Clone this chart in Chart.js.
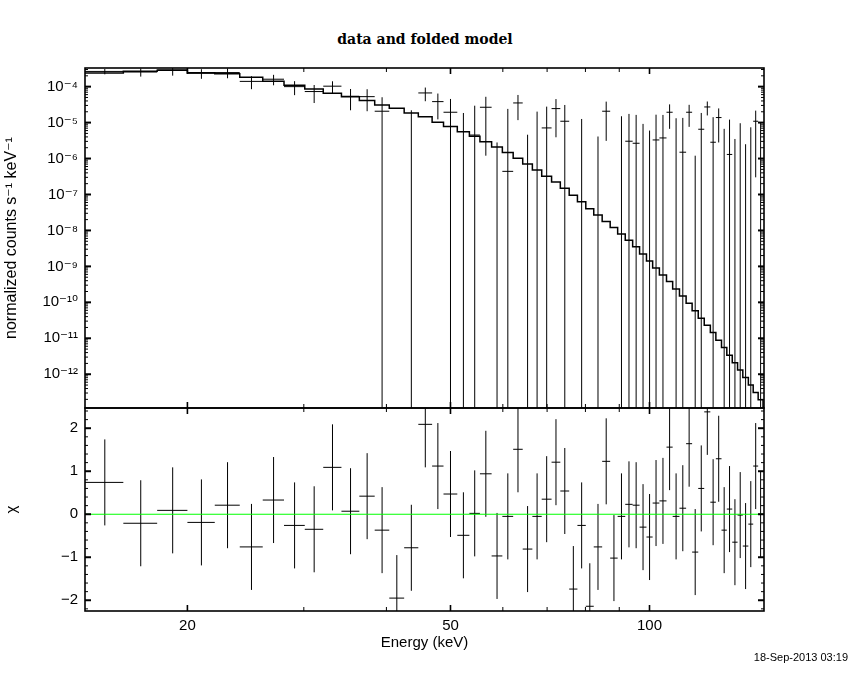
<!DOCTYPE html>
<html lang="en">
<head>
<meta charset="UTF-8">
<title>data and folded model</title>
<script src="https://cdn.jsdelivr.net/npm/chart.js"></script>
<style>
  body { margin: 0; background: #fff; }
  #wrap { position: relative; width: 850px; height: 680px; }
  canvas { position: absolute; left: 0; }
  #top { top: 0; }
  #bottom { top: 400px; }
  #title { position: absolute; top: 32px; left: 0; width: 850px; text-align: center;
           font: bold 14px/14px 'DejaVu Serif', serif; color: #000; }
  #stamp { position: absolute; top: 652px; right: 2px;
           font: 11px/11px 'Liberation Sans', sans-serif; color: #000; }
</style>
</head>
<body>
<div id="wrap">
  <div id="title">data and folded model</div>
  <canvas id="top" width="850" height="420"></canvas>
  <canvas id="bottom" width="850" height="280"></canvas>
  <div id="stamp">18-Sep-2013 03:19</div>
</div>
<script>
// energy bin edges (keV), one more than the number of bins
const binEdges = [14.0, 16.0, 18.0, 20.0, 22.0, 24.0, 26.0, 28.0,
  30.1, 32.1, 34.2, 36.4, 38.4, 40.4, 42.55, 44.7,
  46.9, 48.8, 51.2, 53.4, 55.4, 57.7, 59.9, 62.2,
  64.3, 66.5, 68.7, 71.1, 73.3, 75.6, 77.8, 80.1,
  82.35, 84.8, 87.2, 89.5, 91.9, 94.3, 96.6, 98.95,
  101.1, 103.5, 106.1, 108.4, 111.0, 113.6, 116.0, 118.5,
  121.0, 123.6, 126.0, 128.5, 130.9, 133.4, 135.9, 138.4,
  141.1, 143.5, 146.0, 148.5, 151.0];

// folded model (counts s^-1 keV^-1)
const modelRate = [2.41e-4, 2.68e-4, 2.86e-4, 2.45e-4, 2.30e-4, 1.82e-4, 1.41e-4, 1.09e-4,
  8.63e-5, 6.55e-5, 5.27e-5, 4.09e-5, 3.10e-5, 2.50e-5, 1.85e-5, 1.45e-5,
  1.03e-5, 7.8e-6, 5.6e-6, 4.2e-6, 2.95e-6, 2.1e-6, 1.48e-6, 1.02e-6,
  7.0e-7, 4.82e-7, 3.2e-7, 2.23e-7, 1.49e-7, 9.5e-8, 6.3e-8, 4.04e-8,
  2.7e-8, 1.76e-8, 1.2e-8, 8.0e-9, 5.33e-9, 3.54e-9, 2.22e-9, 1.42e-9,
  9.05e-10, 5.78e-10, 3.77e-10, 2.36e-10, 1.51e-10, 9.44e-11, 5.88e-11, 3.61e-11,
  2.31e-11, 1.44e-11, 8.83e-12, 5.5e-12, 3.38e-12, 2.1e-12, 1.32e-12, 8.05e-13,
  5.05e-13, 3.08e-13, 1.95e-13, 1.2e-13];

// measured rate and 1-sigma error (last bin lies past the axis edge)
const dataRate = [2.65e-4, 2.55e-4, 2.92e-4, 2.35e-4, 2.46e-4, 1.40e-4, 1.61e-4, 1.00e-4,
  7.3e-5, 1.03e-4, 5.4e-5, 5.27e-5, 2.07e-5, -3.3e-5, -1.0e-6, 6.68e-5,
  3.83e-5, 1.94e-5, -6.8e-6, 4.5e-6, 2.67e-5, -2.12e-5, 4.4e-7, 3.52e-5,
  -1.6e-5, -6e-7, 7.1e-6, 2.45e-5, 1.09e-5, -3.5e-5, -4.4e-6, -4.2e-5,
  -1.29e-5, 2.07e-5, -2.0e-5, -8e-7, 3.03e-6, 2.66e-6, -3.9e-6, -6.7e-6,
  3.29e-6, 3.74e-6, 1.94e-5, -7e-7, 1.5e-6, 1.94e-5, -8.8e-6, 6.53e-6,
  2.72e-5, 2.84e-6, 1.38e-5, -3.9e-6, 1.3e-6, -6.5e-6, -2e-7, -7.3e-6,
  -2.2e-6, 1.09e-5, 1e-7, null];
const dataErr = [0.45e-4, 0.65e-4, 0.9e-4, 0.7e-4, 0.75e-4, 0.55e-4, 0.52e-4, 0.42e-4,
  3.8e-5, 3.8e-5, 3.2e-5, 3.2e-5, 3.0e-5, 3.0e-5, 2.3e-5, 2.75e-5,
  2.6e-5, 2.6e-5, 2.53e-5, 2.5e-5, 2.55e-5, 2.4e-5, 2.36e-5, 2.35e-5,
  2.06e-5, 2.08e-5, 2.07e-5, 2.06e-5, 2.0e-5, 2.0e-5, 1.7e-5, 1.95e-5,
  1.7e-5, 1.76e-5, 1.96e-5, 1.58e-5, 1.44e-5, 1.37e-5, 1.31e-5, 1.27e-5,
  1.33e-5, 1.26e-5, 1.27e-5, 1.39e-5, 1.2e-5, 1.18e-5, 1.0e-5, 1.2e-5,
  1.14e-5, 1.13e-5, 1.1e-5, 1.06e-5, 1.08e-5, 1.0e-5, 0.98e-5, 0.98e-5,
  0.96e-5, 1.06e-5, 1.0e-5, null];

// residuals in units of sigma
const chiValues = [0.74, -0.21, 0.09, -0.19, 0.21, -0.76, 0.33, -0.26,
  -0.35, 1.09, 0.07, 0.42, -0.37, -1.95, -0.78, 2.09,
  1.12, 0.47, -0.49, 0.02, 0.94, -0.97, -0.05, 1.51,
  -0.81, -0.05, 0.35, 1.21, 0.54, -1.74, -0.26, -2.14,
  -0.76, 1.23, -1.02, -0.05, 0.23, 0.21, -0.30, -0.53,
  0.26, 0.31, 1.56, -0.05, 0.14, 1.64, -0.88, 0.60,
  2.38, 0.28, 1.29, -0.37, 0.12, -0.65, -0.02, -0.74,
  -0.23, 1.12, 0.0, null];

// axes
const X_MIN = 14, X_MAX = 149;
const RATE_MIN = 1.15e-13, RATE_MAX = 3.3e-4;
const CHI_MIN = -2.25, CHI_MAX = 2.47;
const energyTicks = [20, 50, 100];
const decadeTicks = [1e-12, 1e-11, 1e-10, 1e-9, 1e-8, 1e-7, 1e-6, 1e-5, 1e-4];
const chiTicks = [-2, -1, 0, 1, 2];

const FONT = "'Liberation Sans', 'DejaVu Sans', sans-serif";
Chart.defaults.font.family = FONT;
Chart.defaults.color = '#000';

const SUP = {'-': '\u207B', '0': '\u2070', '1': '\u00B9', '2': '\u00B2', '3': '\u00B3',
  '4': '\u2074', '5': '\u2075', '6': '\u2076', '7': '\u2077', '8': '\u2078', '9': '\u2079'};
function powerLabel(v) {
  const e = Math.round(Math.log10(v));
  return '10' + String(e).split('').map(c => SUP[c]).join('');
}

function logMinor(lo, hi) {
  const out = [];
  for (let e = Math.floor(Math.log10(lo)); e <= Math.ceil(Math.log10(hi)); e++) {
    for (let m = 2; m <= 9; m++) {
      const v = m * Math.pow(10, e);
      if (v > lo && v < hi) out.push(v);
    }
  }
  return out;
}

// tick marks on the frame, pointing inward
const xTickMarks = logMinor(X_MIN, X_MAX).concat([100]).map(v =>
  energyTicks.includes(v) ? {v, len: 6, w: 1.6} : {v, len: 4, w: 1});
const rateTickMarks = decadeTicks.map(v => ({v, len: 6, w: 2}))
  .concat(logMinor(RATE_MIN, RATE_MAX).map(v => ({v, len: 3, w: 1})));
const chiTickMarks = [];
for (let k = -11; k <= 12; k++) {
  const v = k / 5;
  chiTickMarks.push(k % 5 === 0 ? {v, len: 6, w: 2} : {v, len: 3, w: 1});
}

function framePlugin(yMarks) {
  return {
    id: 'frame',
    afterDatasetsDraw(chart) {
      const {ctx, chartArea: a} = chart;
      const xs = chart.scales.x, ys = chart.scales.y;
      const seg = (x1, y1, x2, y2, w) => {
        ctx.lineWidth = w;
        ctx.beginPath(); ctx.moveTo(x1, y1); ctx.lineTo(x2, y2); ctx.stroke();
      };
      ctx.save();
      ctx.strokeStyle = '#000';
      xTickMarks.forEach(t => {
        const p = xs.getPixelForValue(t.v);
        seg(p, a.top, p, a.top + t.len, t.w);
        seg(p, a.bottom, p, a.bottom - t.len, t.w);
      });
      yMarks.forEach(t => {
        const p = ys.getPixelForValue(t.v);
        seg(a.left, p, a.left + t.len, p, t.w);
        seg(a.right, p, a.right - t.len, p, t.w);
      });
      ctx.lineWidth = 1.6;
      ctx.strokeRect(a.left, a.top, a.right - a.left, a.bottom - a.top);
      ctx.restore();
    }
  };
}

// build line segments from the arrays
const lo = i => binEdges[i], hi = i => binEdges[i + 1];
const mid = i => (binEdges[i] + binEdges[i + 1]) / 2;

const modelPts = [];
modelRate.forEach((m, i) => { modelPts.push({x: lo(i), y: m}, {x: hi(i), y: m}); });

const rateH = [], rateV = [];
dataRate.forEach((r, i) => {
  if (r === null) return;
  if (r > 0) rateH.push({x: lo(i), y: r}, {x: hi(i), y: r}, {x: hi(i), y: null});
  const up = r + dataErr[i];
  if (up > 0) {
    const dn = r - dataErr[i] > 0 ? r - dataErr[i] : 1e-30;
    rateV.push({x: mid(i), y: dn}, {x: mid(i), y: up}, {x: mid(i), y: null});
  }
});

const chiH = [], chiV = [];
chiValues.forEach((c, i) => {
  if (c === null) return;
  chiH.push({x: lo(i), y: c}, {x: hi(i), y: c}, {x: hi(i), y: null});
  chiV.push({x: mid(i), y: c - 1}, {x: mid(i), y: c + 1}, {x: mid(i), y: null});
});

const lineSet = (data, color, width) => ({
  data, borderColor: color, borderWidth: width, showLine: true,
  pointRadius: 0, spanGaps: false, fill: false, tension: 0
});

const common = {
  responsive: false,
  animation: false,
  devicePixelRatio: 1,
  events: [],
  plugins: {legend: {display: false}, tooltip: {enabled: false}}
};

const tickFont = {family: FONT, size: 15};

// fixed axis boxes, no automatic label padding
const fixY = s => { s.width = 85; s.paddingTop = 0; s.paddingBottom = 0; };

new Chart(document.getElementById('top'), {
  type: 'scatter',
  data: {
    datasets: [
      lineSet(rateH, '#000', 1),
      lineSet(rateV, '#000', 1),
      lineSet(modelPts, '#000', 1.5)
    ]
  },
  options: {
    ...common,
    layout: {padding: {top: 68, right: 86, bottom: 12, left: 0}},
    scales: {
      x: {type: 'logarithmic', min: X_MIN, max: X_MAX, display: false},
      y: {
        type: 'logarithmic', min: RATE_MIN, max: RATE_MAX, position: 'left',
        grid: {display: false, drawTicks: false},
        border: {display: false},
        ticks: {autoSkip: false, padding: 7, font: tickFont, color: '#000',
                callback: v => powerLabel(v)},
        afterBuildTicks: s => { s.ticks = decadeTicks.map(v => ({value: v})); },
        afterFit: fixY,
        title: {display: true, text: 'normalized counts s\u207B\u00B9 keV\u207B\u00B9',
                font: {family: FONT, size: 16}, color: '#000', padding: {top: 2, bottom: 0}}
      }
    }
  },
  plugins: [framePlugin(rateTickMarks)]
});

new Chart(document.getElementById('bottom'), {
  type: 'scatter',
  data: {
    datasets: [
      lineSet([{x: X_MIN, y: 0}, {x: X_MAX, y: 0}], '#00ff00', 1.2),
      lineSet(chiH, '#000', 1),
      lineSet(chiV, '#000', 1)
    ]
  },
  options: {
    ...common,
    layout: {padding: {top: 8, right: 86, bottom: 0, left: 0}},
    scales: {
      x: {
        type: 'logarithmic', min: X_MIN, max: X_MAX, position: 'bottom',
        grid: {display: false, drawTicks: false},
        border: {display: false},
        ticks: {autoSkip: false, maxRotation: 0, padding: 6, font: tickFont, color: '#000',
                callback: v => String(v)},
        afterBuildTicks: s => { s.ticks = energyTicks.map(v => ({value: v})); },
        afterFit: s => { s.height = 69; s.paddingLeft = 0; s.paddingRight = 0; },
        title: {display: true, text: 'Energy (keV)', font: tickFont, color: '#000',
                padding: {top: 0, bottom: 28}}
      },
      y: {
        type: 'linear', min: CHI_MIN, max: CHI_MAX, position: 'left',
        grid: {display: false, drawTicks: false},
        border: {display: false},
        ticks: {autoSkip: false, padding: 7, font: tickFont, color: '#000',
                callback: v => (v < 0 ? '\u2212' + (-v) : String(v))},
        afterBuildTicks: s => { s.ticks = chiTicks.map(v => ({value: v})); },
        afterFit: fixY,
        title: {display: true, text: '\u03C7', font: tickFont, color: '#000',
                padding: {top: 3, bottom: 0}}
      }
    }
  },
  plugins: [framePlugin(chiTickMarks)]
});
</script>
</body>
</html>
